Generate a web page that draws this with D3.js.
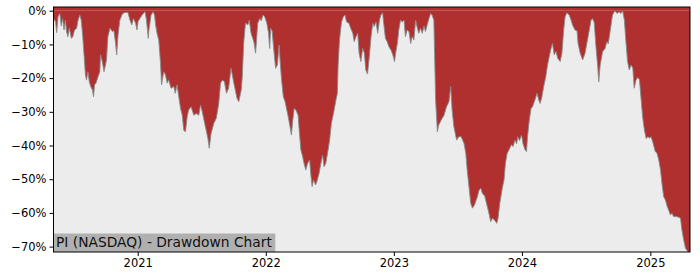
<!DOCTYPE html>
<html><head><meta charset="utf-8">
<script src="https://cdn.jsdelivr.net/npm/d3@7"></script>
<style>body{margin:0;background:#fff}svg{display:block}text{font-family:"DejaVu Sans",sans-serif}</style>
</head><body><svg id="c" width="700" height="280"></svg>
<script>
const title = "PI (NASDAQ) - Drawdown Chart";
const dates = [
"2020-05-06","2020-05-12","2020-05-15","2020-05-19","2020-05-24","2020-05-28","2020-06-01","2020-06-05","2020-06-09","2020-06-12",
"2020-06-16","2020-06-20","2020-06-26","2020-06-30","2020-07-05","2020-07-11","2020-07-15","2020-07-20","2020-07-24","2020-07-28",
"2020-08-01","2020-08-05","2020-08-08","2020-08-12","2020-08-16","2020-08-20","2020-08-25","2020-08-28","2020-08-31","2020-09-04",
"2020-09-10","2020-09-15","2020-09-17","2020-09-22","2020-09-27","2020-10-04","2020-10-08","2020-10-14","2020-10-21","2020-10-25",
"2020-10-30","2020-11-02","2020-11-06","2020-11-11","2020-11-18","2020-11-25","2020-12-04","2020-12-10","2020-12-15","2020-12-20",
"2020-12-26","2020-12-30","2021-01-02","2021-01-09","2021-01-16","2021-01-22","2021-01-26","2021-01-31","2021-02-02","2021-02-08",
"2021-02-14","2021-02-18","2021-02-21","2021-02-25","2021-03-02","2021-03-07","2021-03-10","2021-03-16","2021-03-21","2021-03-26",
"2021-03-30","2021-04-06","2021-04-14","2021-04-18","2021-04-23","2021-04-28","2021-05-03","2021-05-08","2021-05-12","2021-05-17",
"2021-05-22","2021-05-26","2021-06-02","2021-06-10","2021-06-17","2021-06-24","2021-06-29","2021-07-04","2021-07-10","2021-07-16",
"2021-07-20","2021-07-24","2021-07-29","2021-08-06","2021-08-13","2021-08-20","2021-08-25","2021-08-30","2021-09-05","2021-09-11",
"2021-09-17","2021-09-24","2021-10-02","2021-10-11","2021-10-16","2021-10-23","2021-10-26","2021-10-30","2021-11-04","2021-11-11",
"2021-11-15","2021-11-20","2021-11-28","2021-12-03","2021-12-09","2021-12-15","2021-12-19","2021-12-24","2021-12-29","2022-01-04",
"2022-01-09","2022-01-12","2022-01-15","2022-01-19","2022-01-23","2022-01-29","2022-02-03","2022-02-08","2022-02-11","2022-02-15",
"2022-02-20","2022-02-25","2022-03-02","2022-03-06","2022-03-11","2022-03-15","2022-03-19","2022-03-23","2022-03-28","2022-04-03",
"2022-04-07","2022-04-11","2022-04-16","2022-04-20","2022-04-25","2022-04-30","2022-05-06","2022-05-09","2022-05-13","2022-05-17",
"2022-05-23","2022-05-28","2022-06-02","2022-06-07","2022-06-12","2022-06-16","2022-06-21","2022-06-26","2022-07-02","2022-07-07",
"2022-07-13","2022-07-20","2022-07-24","2022-07-26","2022-07-30","2022-08-05","2022-08-10","2022-08-15","2022-08-19","2022-08-26",
"2022-08-31","2022-09-06","2022-09-10","2022-09-15","2022-09-20","2022-09-24","2022-09-29","2022-10-04","2022-10-09","2022-10-13",
"2022-10-18","2022-10-23","2022-10-28","2022-11-02","2022-11-06","2022-11-11","2022-11-16","2022-11-21","2022-11-25","2022-11-30",
"2022-12-03","2022-12-08","2022-12-13","2022-12-18","2022-12-24","2022-12-29","2023-01-03","2023-01-06","2023-01-11","2023-01-15",
"2023-01-20","2023-01-25","2023-01-30","2023-02-03","2023-02-08","2023-02-13","2023-02-18","2023-02-22","2023-02-27","2023-03-04",
"2023-03-09","2023-03-13","2023-03-18","2023-03-23","2023-03-28","2023-04-01","2023-04-06","2023-04-11","2023-04-16","2023-04-20",
"2023-04-25","2023-04-30","2023-05-05","2023-05-09","2023-05-16","2023-05-24","2023-05-31","2023-06-07","2023-06-12","2023-06-16",
"2023-06-21","2023-06-29","2023-07-05","2023-07-12","2023-07-20","2023-07-25","2023-07-29","2023-08-03","2023-08-08","2023-08-13",
"2023-08-19","2023-08-27","2023-09-01","2023-09-06","2023-09-10","2023-09-17","2023-09-23","2023-09-29","2023-10-04","2023-10-09",
"2023-10-15","2023-10-21","2023-10-25","2023-10-30","2023-11-06","2023-11-11","2023-11-15","2023-11-20","2023-11-25","2023-12-02",
"2023-12-07","2023-12-12","2023-12-17","2023-12-20","2023-12-25","2023-12-31","2024-01-04","2024-01-10","2024-01-14","2024-01-17",
"2024-01-22","2024-01-27","2024-01-31","2024-02-07","2024-02-13","2024-02-18","2024-02-22","2024-02-27","2024-03-03","2024-03-09",
"2024-03-14","2024-03-19","2024-03-24","2024-03-28","2024-04-02","2024-04-07","2024-04-12","2024-04-19","2024-04-24","2024-04-29",
"2024-05-03","2024-05-08","2024-05-15","2024-05-20","2024-05-24","2024-05-31","2024-06-06","2024-06-09","2024-06-15","2024-06-22",
"2024-06-29","2024-07-04","2024-07-11","2024-07-16","2024-07-20","2024-07-25","2024-07-30","2024-08-04","2024-08-07","2024-08-11",
"2024-08-18","2024-08-25","2024-08-30","2024-09-03","2024-09-09","2024-09-15","2024-09-22","2024-09-28","2024-10-04","2024-10-09",
"2024-10-14","2024-10-19","2024-10-23","2024-10-28","2024-11-02","2024-11-07","2024-11-12","2024-11-16","2024-11-21","2024-11-26",
"2024-12-01","2024-12-05","2024-12-10","2024-12-15","2024-12-20","2024-12-25","2024-12-30","2025-01-03","2025-01-09","2025-01-15",
"2025-01-20","2025-01-25","2025-01-30","2025-02-03","2025-02-08","2025-02-13","2025-02-18","2025-02-22","2025-02-27","2025-03-04",
"2025-03-08","2025-03-16","2025-03-23","2025-03-28","2025-04-01","2025-04-06","2025-04-11","2025-04-16","2025-04-20","2025-04-24"
];
const drawdown = [
-2.3,-3.3,-6.5,-1.8,-0.8,-4.5,-2.3,-5.7,-2.8,-6.2,
-7.7,-5.2,-8.2,-7.7,-5.7,-5.2,-2.8,-1.3,-2.8,-7.2,
-13.1,-19.1,-20.6,-18.1,-21.1,-22.5,-23.5,-25.5,-22,-21.5,
-19.6,-18.1,-13.1,-15.1,-18.1,-14.6,-7.7,-5.2,-6.2,-5.9,
-9.7,-13.1,-7.2,-2.8,-1,-0.5,-0.5,-2.8,-4.2,-2.3,
-3.7,-5.7,-3.2,-2,-0.9,-0.3,-2.8,-8.2,-5.7,-1.3,
-0.3,-1.3,-4.2,-6.7,-8.7,-15.6,-22,-18.1,-19,-21.5,
-20.5,-23,-22.5,-24.5,-22,-25.5,-29,-31,-35.4,-36,
-31.5,-29.5,-28.5,-31,-30.5,-31,-28,-30,-33,-35.9,
-37.9,-40.8,-36.4,-33.4,-31.9,-27.5,-21.5,-20.6,-21,-24.5,
-23,-17.1,-21.5,-26,-27,-23.5,-19.6,-9.7,-3.7,-4.2,
-2.8,-6.7,-9.2,-12.6,-3.7,-2.3,-3,-1.3,-1.8,-3.7,
-6.7,-11.2,-5.2,-6,-10.7,-17.1,-16.1,-10.2,-15.1,-20.6,
-25.5,-27,-29.5,-31.5,-34.4,-36.9,-32.4,-29,-29.5,-31,
-36.4,-41.3,-43.3,-45.3,-47.3,-45.3,-44.3,-48.2,-52.2,-50.2,
-51.7,-50.2,-48.2,-45.3,-42.8,-46.3,-45.3,-42.3,-38.4,-33.4,
-30.4,-26.5,-24.5,-16.6,-8.7,-3.3,-1.8,-1.3,-3.3,-3.7,
-5.2,-6.7,-9.2,-7.7,-6.7,-12.6,-15.1,-11.2,-12.6,-17.6,
-18.8,-13.6,-7.7,-3.7,-4.7,-3.3,-6.7,-2.8,-1.3,-0.6,
-3.7,-8.2,-9.2,-10.7,-11.7,-13.1,-15.1,-12.6,-9.7,-5.7,
-2.8,-3.3,-2.8,-7.7,-5.7,-6.2,-9.7,-7.7,-8.7,-2.8,
-5.2,-6.7,-5.2,-6.7,-4.5,-6.2,-4.2,-2.3,-0.8,-1.3,
-2.8,-26.5,-35.9,-33.9,-32.4,-31,-28.5,-27,-22.5,-29.5,
-34.4,-38.4,-37.4,-37.4,-39.4,-42.3,-47.3,-52.2,-57.1,-58.6,
-57.6,-55.2,-53.2,-52.7,-54.2,-55,-57.6,-60.1,-62.6,-61.6,
-62.1,-63.1,-61.6,-57.1,-52.7,-50.2,-45.3,-42.3,-41.3,-39.8,
-40.3,-38.4,-39.5,-37.4,-38.5,-36.9,-39.4,-41.3,-41.8,-37.4,
-32.4,-29,-28.5,-26.5,-24.5,-26.5,-27.5,-25.5,-22.5,-19.6,
-16.1,-13.6,-11.2,-9.7,-13.1,-12.1,-14.1,-15.1,-12.6,-5.7,
-1.8,-0.6,-1.3,-2.8,-4.2,-5.7,-6,-9.7,-12.6,-14.6,
-12.6,-9.7,-5.7,-2.8,-2.3,-3.5,-10.7,-16.6,-21.1,-16.1,
-12.1,-11.2,-9.2,-9.8,-5.7,-1.3,0,-0.8,-0.3,-0.8,
0,-2.8,-8.7,-15.1,-17.6,-16.1,-17,-23,-20.6,-19.8,
-20.5,-25.5,-31.5,-35.4,-37.9,-37.4,-37.8,-37.4,-39.4,-41.8,
-42.3,-44.3,-47.3,-51.2,-55.2,-56.2,-58.1,-59.1,-60.6,-60.1,
-61.1,-61.1,-61.3,-61.6,-65.1,-68,-70.5,-71.2,-72,-72
];
const yTicks = [0,-10,-20,-30,-40,-50,-60,-70];
const xTickYears = ["2021","2022","2023","2024","2025"];

const parse = d3.timeParse("%Y-%m-%d");
const data = dates.map((d,i)=>({date:parse(d), v:drawdown[i]}));

const svg = d3.select("#c");
const L=53.5, R=690, T=7, B=252;
const x = d3.scaleTime().domain(d3.extent(data,d=>d.date)).range([L,R]);
const y = d3.scaleLinear().domain([-71.6,1.1]).range([B,T]);

svg.append("defs").append("clipPath").attr("id","clip")
  .append("rect").attr("x",L).attr("y",T).attr("width",R-L).attr("height",B-T);

svg.append("rect").attr("x",L).attr("y",T).attr("width",R-L).attr("height",B-T).attr("fill","#ececec");

const g = svg.append("g").attr("clip-path","url(#clip)");
g.append("path").datum(data)
  .attr("d", d3.area().x(d=>x(d.date)).y0(y(0)).y1(d=>y(d.v)))
  .attr("fill","#b03030");
g.append("path").datum(data)
  .attr("d", d3.line().x(d=>x(d.date)).y(d=>y(d.v)))
  .attr("fill","none").attr("stroke","#8a8a8a").attr("stroke-width",0.9);
// cover above 0 to top
g.append("rect").attr("x",L).attr("y",T).attr("width",R-L).attr("height",y(0)-T).attr("fill","#b03030");

// label
const lab = svg.append("g");
const txt = lab.append("text").attr("x",56).attr("y",247).attr("font-size","13.8px").attr("fill","#111").text(title);
const tw = txt.node().getComputedTextLength();
lab.insert("rect","text").attr("x",L).attr("y",233.5).attr("width",tw+6).attr("height",B-233.5).attr("fill","#b0b0b0");

// axes
const yAxis = d3.axisLeft(y).tickValues(yTicks).tickSize(4).tickPadding(3)
  .tickFormat(d=> (d<0?"\u2212":"") + Math.abs(d) + "%");
const ya = svg.append("g").attr("transform",`translate(${L},0)`).call(yAxis);
ya.select(".domain").remove();
ya.selectAll("text").attr("font-size","11.5px").attr("font-family","DejaVu Sans").attr("fill","#000");
ya.selectAll("line").attr("stroke","#000");

const xAxis = d3.axisBottom(x).tickValues(xTickYears.map(s=>parse(s+"-01-01"))).tickSize(4).tickPadding(3)
  .tickFormat(d3.timeFormat("%Y"));
const xa = svg.append("g").attr("transform",`translate(0,${B})`).call(xAxis);
xa.select(".domain").remove();
xa.selectAll("text").attr("font-size","11.5px").attr("font-family","DejaVu Sans").attr("fill","#000");
xa.selectAll("line").attr("stroke","#000");

svg.append("rect").attr("x",L).attr("y",T).attr("width",R-L).attr("height",B-T)
  .attr("fill","none").attr("stroke","#000").attr("stroke-width",1);
</script></body></html>
